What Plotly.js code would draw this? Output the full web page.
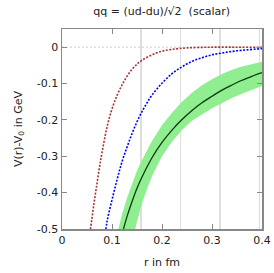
<!DOCTYPE html>
<html><head><meta charset="utf-8">
<script src="https://cdn.plot.ly/plotly-3.0.1.min.js"></script>
<style>html,body{margin:0;padding:0;background:#fff}#c{width:274px;height:273px}</style>
</head><body><div id="c"></div>
<script>
// Dotted red curve
var redR = [0.055,0.06,0.065,0.07,0.075,0.08,0.09,0.10,0.11,0.12,0.13,0.14,0.15,0.16,0.18,0.20,0.22,0.25,0.30,0.35,0.40];
var redV = [-0.52,-0.47,-0.42,-0.375,-0.33,-0.29,-0.22,-0.17,-0.133,-0.104,-0.08,-0.061,-0.047,-0.036,-0.021,-0.011,-0.006,-0.002,0,0,0];
// Dotted blue curve
var blueR = [0.085,0.09,0.10,0.11,0.12,0.13,0.14,0.15,0.16,0.17,0.18,0.20,0.22,0.24,0.26,0.28,0.30,0.32,0.35,0.40];
var blueV = [-0.53,-0.48,-0.42,-0.365,-0.315,-0.275,-0.238,-0.205,-0.177,-0.153,-0.132,-0.099,-0.073,-0.054,-0.039,-0.029,-0.021,-0.016,-0.010,-0.004];
// Central fit curve
var fitR = [0.12,0.13,0.14,0.15,0.16,0.18,0.20,0.22,0.24,0.26,0.28,0.30,0.32,0.34,0.36,0.38,0.40];
var fitV = [-0.515,-0.466,-0.425,-0.388,-0.357,-0.304,-0.262,-0.228,-0.199,-0.174,-0.153,-0.135,-0.118,-0.104,-0.091,-0.080,-0.070];
// Error band edges
var upR = [0.11,0.12,0.13,0.14,0.15,0.16,0.18,0.20,0.22,0.24,0.26,0.28,0.30,0.32,0.34,0.36,0.38,0.40];
var upV = [-0.515,-0.46,-0.415,-0.375,-0.34,-0.31,-0.258,-0.215,-0.18,-0.15,-0.125,-0.105,-0.088,-0.074,-0.062,-0.053,-0.046,-0.040];
var loR = [0.14,0.15,0.16,0.17,0.18,0.20,0.22,0.24,0.26,0.28,0.30,0.32,0.34,0.36,0.38,0.40];
var loV = [-0.535,-0.48,-0.43,-0.39,-0.355,-0.30,-0.26,-0.228,-0.202,-0.185,-0.168,-0.153,-0.14,-0.128,-0.117,-0.107];
// Lattice-spacing grid lines
var latticeR = [0.158,0.237,0.316,0.395];
var xTicks = [0,0.1,0.2,0.3,0.4];
var xTickText = ['0','0.1','0.2','0.3','0.4'];
var yTicks = [0,-0.1,-0.2,-0.3,-0.4,-0.5];
var yTickText = ['0','-0.1','-0.2','-0.3','-0.4','-0.5'];

var bandX = upR.concat(loR.slice().reverse());
var bandY = upV.concat(loV.slice().reverse());

var traces = [
  {x:[0,0.4], y:[0,0], mode:'lines', line:{color:'#cccccc', width:1, dash:'2px,2px'}, hoverinfo:'skip'},
  {x:bandX, y:bandY, mode:'lines', fill:'toself', fillcolor:'#90ee90', line:{width:0, color:'#90ee90'}, hoverinfo:'skip'},
  {x:redR, y:redV, mode:'lines', line:{color:'#a83232', width:1.6, dash:'2px,1.5px', shape:'spline'}},
  {x:blueR, y:blueV, mode:'lines', line:{color:'#0000ff', width:1.6, dash:'2px,1.5px', shape:'spline'}},
  {x:fitR, y:fitV, mode:'lines', line:{color:'#0b3b0b', width:1.3, shape:'spline'}},
  {x:[0], y:[0], xaxis:'x2', mode:'markers', marker:{opacity:0}, hoverinfo:'skip'}
];

var font = {family:'DejaVu Sans, Verdana, sans-serif', size:11, color:'#222'};
var layout = {
  width:274, height:273,
  margin:{l:62, r:12, t:29, b:44},
  paper_bgcolor:'#fff', plot_bgcolor:'#fff',
  showlegend:false,
  font:font,
  title:{text:'qq = (ud-du)/√2  (scalar)', x:0.59, xanchor:'center', y:0.96, yanchor:'middle', font:font},
  xaxis:{range:[0,0.4], tickvals:xTicks, ticktext:xTickText, ticks:'inside', ticklen:5, tickcolor:'#888',
         showline:true, linecolor:'#888', linewidth:1.5, mirror:'ticks', showgrid:false, zeroline:false,
         title:{text:'r in fm', font:font, standoff:12}, tickfont:font},
  xaxis2:{range:[0,0.4], overlaying:'x', tickvals:latticeR, showticklabels:false, ticks:'', showgrid:true,
          gridcolor:'#dedede', gridwidth:1.5, zeroline:false, showline:false},
  yaxis:{range:[-0.5,0.05], tickvals:yTicks, ticktext:yTickText, ticks:'inside', ticklen:5, tickcolor:'#888',
         showline:true, linecolor:'#888', linewidth:1.5, mirror:'ticks', showgrid:false, zeroline:false,
         title:{text:'V(r)-V<sub>0</sub> in GeV', font:font, standoff:12}, tickfont:font}
};
Plotly.newPlot('c', traces, layout, {staticPlot:true, displayModeBar:false});
</script></body></html>
